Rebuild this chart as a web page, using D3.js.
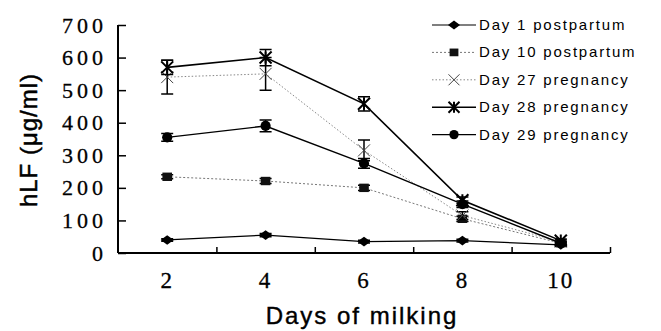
<!DOCTYPE html>
<html>
<head>
<meta charset="utf-8">
<script src="https://cdn.jsdelivr.net/npm/d3@7"></script>
<style>
  body { margin: 0; background: #fff; }
  svg { display: block; }
</style>
</head>
<body>
<div id="chart"></div>
<script>
// days of milking
const days = [2, 4, 6, 8, 10]
const seriesNames = ['Day 1 postpartum', 'Day 10 postpartum', 'Day 27 pregnancy', 'Day 28 pregnancy', 'Day 29 pregnancy']
const day1 = [40, 55, 35, 38, 25]
const day10 = [234, 221, 200, 105, 30]
const day27 = [540, 550, 315, 115, 35]
const day28 = [570, 600, 458, 162, 38]
const day29 = [355, 390, 275, 150, 30]
// error bars (+/-)
const err1 = [4, 5, 4, 4, 3]
const err10 = [6, 8, 8, 8, 4]
const err27 = [52, 50, 32, 12, 5]
const err28 = [22, 25, 22, 10, 5]
const err29 = [12, 18, 15, 10, 5]
const yTicks = [0, 100, 200, 300, 400, 500, 600, 700]

const SERIF = '"Liberation Serif", "Times New Roman", serif'
const SANS = '"Liberation Sans", Arial, sans-serif'

const W = 661, H = 331
const margin = { left: 118, top: 25, right: 51, bottom: 78 }

const svg = d3.select('#chart').append('svg').attr('width', W).attr('height', H)

const x = d3.scaleLinear().domain([1, 11]).range([margin.left, W - margin.right])
const y = d3.scaleLinear().domain([0, 700]).range([H - margin.bottom, margin.top])

const styles = [
  { dash: null, color: '#000', width: 1.2, marker: 'diamond' },
  { dash: '2,2', color: '#777', width: 1, marker: 'square' },
  { dash: '1.5,2', color: '#888', width: 1, marker: 'cross' },
  { dash: null, color: '#000', width: 1.6, marker: 'star' },
  { dash: null, color: '#000', width: 1.4, marker: 'circle' }
]
const values = [day1, day10, day27, day28, day29]
const errs = [err1, err10, err27, err28, err29]

// axes
const yAxis = d3.axisLeft(y).tickValues(yTicks).tickSize(-8).tickFormat(d3.format('d')).tickPadding(11)
const gy = svg.append('g').attr('transform', `translate(${margin.left},0)`).call(yAxis)
gy.attr('font-family', null).attr('font-size', null)
gy.select('.domain').attr('stroke-width', 2).attr('d', `M0,${y(700)}V${y(0)}`)
gy.selectAll('.tick line').attr('stroke-width', 1.5)
gy.selectAll('.tick text')
  .style('font-family', SERIF)
  .style('font-size', '22px').style('letter-spacing', '4px').attr('fill', '#000')
  .attr('stroke', '#000').attr('stroke-width', 0.3)

const xAxis = d3.axisBottom(x).tickValues([3, 5, 7, 9, 11]).tickSize(-6).tickFormat('')
const gx = svg.append('g').attr('transform', `translate(0,${y(0)})`).call(xAxis)
gx.select('.domain').attr('stroke-width', 2).attr('d', `M${margin.left},0H${x(11)}`)
gx.selectAll('.tick line').attr('stroke-width', 1.5)

svg.append('g').selectAll('text').data(days).join('text')
  .style('font-family', SERIF)
  .attr('x', d => x(d)).attr('y', y(0) + 35)
  .attr('text-anchor', 'middle')
  .style('font-size', '23px').style('letter-spacing', '2px')
  .attr('stroke', '#000').attr('stroke-width', 0.3)
  .text(d => d)

// titles
svg.append('text').style('font-family', SANS)
  .attr('transform', `translate(37,${(y(0) + y(700)) / 2 + 1}) rotate(-90)`)
  .attr('text-anchor', 'middle')
  .style('font-size', '24px').style('letter-spacing', '1px')
  .attr('stroke', '#000').attr('stroke-width', 0.5)
  .text('hLF (μg/ml)')

svg.append('text').style('font-family', SANS)
  .attr('x', 362).attr('y', 324)
  .attr('text-anchor', 'middle')
  .style('font-size', '24px').style('letter-spacing', '2px')
  .attr('stroke', '#000').attr('stroke-width', 0.4)
  .text('Days of milking')

function drawMarker(g, type, cx, cy, s) {
  if (type === 'diamond') {
    g.append('path').attr('d', `M${cx},${cy - s * 0.8}L${cx + s * 1.1},${cy}L${cx},${cy + s * 0.8}L${cx - s * 1.1},${cy}Z`).attr('fill', '#000')
  } else if (type === 'square') {
    g.append('rect').attr('x', cx - s * 0.8).attr('y', cy - s * 0.7).attr('width', s * 1.6).attr('height', s * 1.4).attr('fill', '#111')
  } else if (type === 'cross') {
    g.append('path').attr('d', `M${cx - s},${cy - s}L${cx + s},${cy + s}M${cx - s},${cy + s}L${cx + s},${cy - s}`)
      .attr('stroke', '#444').attr('stroke-width', 1)
  } else if (type === 'star') {
    g.append('path').attr('d', `M${cx - s},${cy - s}L${cx + s},${cy + s}M${cx - s},${cy + s}L${cx + s},${cy - s}M${cx},${cy - s}V${cy + s}`)
      .attr('stroke', '#000').attr('stroke-width', 2)
  } else {
    g.append('circle').attr('cx', cx).attr('cy', cy).attr('r', s * 0.85).attr('fill', '#000')
  }
}

const line = d3.line().x(d => x(d[0])).y(d => y(d[1]))

values.forEach((vals, i) => {
  const st = styles[i]
  const g = svg.append('g')
  const pts = days.map((d, j) => [d, vals[j]])
  g.append('path').datum(pts).attr('d', line)
    .attr('fill', 'none').attr('stroke', st.color).attr('stroke-width', st.width)
    .attr('stroke-dasharray', st.dash)
  // error bars
  pts.forEach((p, j) => {
    const e = errs[i][j]
    const cx = x(p[0]), y1 = y(p[1] + e), y2 = y(p[1] - e)
    g.append('path').attr('d', `M${cx},${y1}V${y2}M${cx - 6},${y1}H${cx + 6}M${cx - 6},${y2}H${cx + 6}`)
      .attr('stroke', '#000').attr('stroke-width', 1.5).attr('fill', 'none')
    drawMarker(g, st.marker, cx, y(p[1]), 6)
  })
})

// legend
const legend = svg.append('g')
seriesNames.forEach((name, i) => {
  const st = styles[i]
  const ly = 25 + i * 27.4
  legend.append('line').attr('x1', 432).attr('x2', 476).attr('y1', ly).attr('y2', ly)
    .attr('stroke', st.color).attr('stroke-width', st.width).attr('stroke-dasharray', st.dash)
  drawMarker(legend, st.marker, 454, ly, 5.5)
  legend.append('text').style('font-family', SANS).attr('x', 479).attr('y', ly + 5)
    .style('font-size', '15px').style('letter-spacing', '1.8px')
    .text(name)
})
</script>
</body>
</html>
